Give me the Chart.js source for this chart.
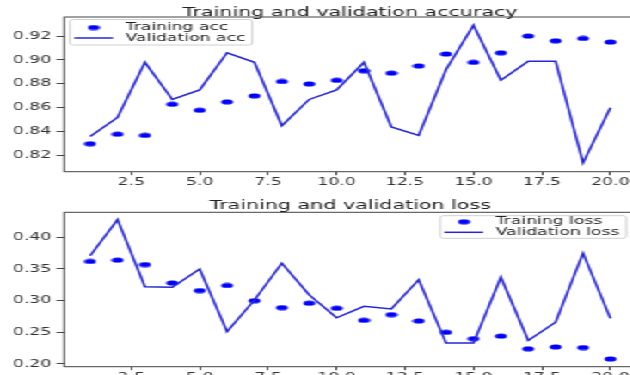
<!DOCTYPE html>
<html>
<head>
<meta charset="utf-8">
<script src="https://cdn.jsdelivr.net/npm/chart.js@4/dist/chart.umd.min.js"></script>
<style>
  html, body { margin:0; padding:0; background:#fff; width:630px; height:375px; overflow:hidden; }
  #wrap { position:absolute; left:0; top:0; transform:scaleX(1.72); transform-origin:0 0; }
  canvas { display:block; }
</style>
</head>
<body>
<div id="wrap">
  <canvas id="c1" width="374" height="190"></canvas>
  <canvas id="c2" width="374" height="200"></canvas>
</div>
<script>
// ---- data ----
const epochs = [1,2,3,4,5,6,7,8,9,10,11,12,13,14,15,16,17,18,19,20];
const trainAcc = [0.830,0.838,0.837,0.863,0.858,0.865,0.870,0.882,0.880,0.883,0.891,0.889,0.895,0.905,0.898,0.906,0.920,0.916,0.918,0.915];
const valAcc   = [0.836,0.852,0.898,0.867,0.875,0.906,0.898,0.845,0.867,0.875,0.898,0.844,0.837,0.892,0.929,0.883,0.899,0.899,0.814,0.860];
const trainLoss = [0.362,0.364,0.357,0.328,0.316,0.324,0.300,0.289,0.296,0.288,0.269,0.278,0.268,0.250,0.240,0.244,0.224,0.227,0.226,0.208];
const valLoss   = [0.371,0.428,0.322,0.321,0.350,0.251,0.301,0.359,0.309,0.273,0.291,0.287,0.333,0.233,0.233,0.337,0.237,0.266,0.375,0.272];
const xTicks = [2.5,5.0,7.5,10.0,12.5,15.0,17.5,20.0];
const accTicks = [0.82,0.84,0.86,0.88,0.90,0.92];
const lossTicks = [0.20,0.25,0.30,0.35,0.40];
const accTitle = 'Training and validation accuracy';
const lossTitle = 'Training and validation loss';
const accLabels = ['Training acc','Validation acc'];
const lossLabels = ['Training loss','Validation loss'];

const FONT = '"DejaVu Sans", Verdana, sans-serif';
const BLUE = '#0000ff';
const LINE = '#2626d6';

function dotImg() {
  const c = document.createElement('canvas');
  c.width = 8; c.height = 6;
  const g = c.getContext('2d');
  g.fillStyle = BLUE;
  g.beginPath(); g.ellipse(4, 3, 3.5, 2.6, 0, 0, Math.PI*2); g.fill();
  return c;
}
const DOT = dotImg();

function pts(xs, ys) { return xs.map((x, i) => ({x: x, y: ys[i]})); }

function makeChart(id, cfg) {
  const canvas = document.getElementById(id);
  const H = canvas.height;
  const framePlugin = {
    id: 'frame' + id,
    afterDraw(chart) {
      const ctx = chart.ctx, a = chart.chartArea;
      ctx.save();
      // spines
      ctx.strokeStyle = '#444'; ctx.lineWidth = 1;
      ctx.strokeRect(a.left, a.top, a.right - a.left, a.bottom - a.top);
      // title
      ctx.fillStyle = '#222';
      ctx.font = '12px ' + FONT;
      ctx.textAlign = 'center'; ctx.textBaseline = 'alphabetic';
      ctx.fillText(cfg.title, (a.left + a.right) / 2, cfg.titleY);
      // legend
      ctx.font = '10px ' + FONT;
      const labs = chart.data.datasets.map(d => d.label);
      const tw = Math.max(...labs.map(l => ctx.measureText(l).width));
      const w = 32.3 + tw + 4;
      const L = cfg.legendLeft ? a.left + 3.4 : a.right - 5.9 - w;
      const T = cfg.legendBox[0], B = cfg.legendBox[1];
      ctx.beginPath();
      ctx.roundRect(L, T, w, B - T, 2);
      ctx.fillStyle = 'rgba(255,255,255,0.85)'; ctx.fill();
      ctx.strokeStyle = '#d0d0d0'; ctx.lineWidth = 1; ctx.stroke();
      // row 1: dot
      ctx.drawImage(DOT, L + 13.8 - 4, cfg.rows[0] - 3);
      // row 2: line
      ctx.beginPath(); ctx.moveTo(L + 2.5, cfg.rows[1]); ctx.lineTo(L + 25, cfg.rows[1]);
      ctx.strokeStyle = LINE; ctx.lineWidth = 1.5; ctx.stroke();
      ctx.fillStyle = '#222'; ctx.textAlign = 'left'; ctx.textBaseline = 'middle';
      ctx.fillText(labs[0], L + 32.3, cfg.rows[0]);
      ctx.fillText(labs[1], L + 32.3, cfg.rows[1]);
      ctx.restore();
    }
  };
  return new Chart(canvas, {
    type: 'line',
    data: {
      datasets: [
        { label: cfg.labels[0], data: pts(epochs, cfg.train), showLine: false,
          pointStyle: DOT, pointRadius: 3, pointHoverRadius: 3, borderColor: BLUE, backgroundColor: BLUE, order: 1 },
        { label: cfg.labels[1], data: pts(epochs, cfg.val), borderColor: LINE, borderWidth: 1.5,
          pointRadius: 0, tension: 0, fill: false, order: 0 }
      ]
    },
    options: {
      responsive: false, animation: false, devicePixelRatio: 1,
      layout: { padding: { top: cfg.top, right: 2.8, left: 0, bottom: 0 } },
      plugins: { legend: { display: false }, tooltip: { enabled: false }, title: { display: false } },
      scales: {
        x: {
          type: 'linear', min: 0.05, max: 20.95,
          afterBuildTicks: s => { s.ticks = xTicks.map(v => ({value: v})); },
          afterFit: s => { s.height = H - cfg.bottom; },
          grid: { drawOnChartArea: false, drawTicks: true, tickLength: 3.5, color: '#444' },
          border: { display: false },
          ticks: { font: { family: FONT, size: 10 }, color: '#333', padding: 1, maxRotation: 0, autoSkip: false,
                   callback: v => Number(v).toFixed(1) }
        },
        y: {
          type: 'linear', min: cfg.ymin, max: cfg.ymax,
          afterBuildTicks: s => { s.ticks = cfg.yTicks.map(v => ({value: v})); },
          afterFit: s => { s.width = 37.3; },
          grid: { drawOnChartArea: false, drawTicks: true, tickLength: 4.5, color: '#444' },
          border: { display: false },
          ticks: { font: { family: FONT, size: 10 }, color: '#333', padding: 3, autoSkip: false,
                   callback: v => Number(v).toFixed(2) }
        }
      }
    },
    plugins: [framePlugin]
  });
}

makeChart('c1', {
  title: accTitle, titleY: 16, labels: accLabels, train: trainAcc, val: valAcc,
  top: 17, bottom: 171.7, ymin: 0.8066, ymax: 0.9359, yTicks: accTicks,
  legendLeft: true, legendBox: [19.5, 45], rows: [27.5, 38.0]
});
makeChart('c2', {
  title: lossTitle, titleY: 19.3, labels: lossLabels, train: trainLoss, val: valLoss,
  top: 22.3, bottom: 176.7, ymin: 0.1957, ymax: 0.4395, yTicks: lossTicks,
  legendLeft: false, legendBox: [25.7, 48.3], rows: [31.7, 42.3]
});
</script>
</body>
</html>
